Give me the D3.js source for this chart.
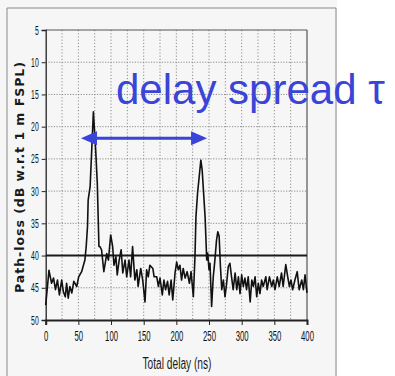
<!DOCTYPE html>
<html><head><meta charset="utf-8">
<script src="https://cdn.jsdelivr.net/npm/d3@7"></script>
<style>html,body{margin:0;padding:0;background:#fff;}svg{display:block;}</style>
</head><body>
<svg id="chart" width="395" height="376"></svg>
<script>
// ---- data ----
const delays = [0,5,9,12,15,18,21,24.5,27,30,32,34.5,37,40,43,47.5,50.5,55,60,62,64,65,68,73,76.5,79,81.5,83,85.5,89,93.5,96,99.5,102.5,104.5,107.5,109.5,112.5,115.5,118,121.5,124,127.5,130,133,136.5,139.5,141.5,145.5,148.5,152,154.5,157,159.5,164,166,170,172.5,175,178.5,181,183.5,186.5,189,192,194.5,198,200.5,203,205.5,208,210.5,213.5,216.5,220,222.5,226,228.5,230,232.5,237.5,239.5,244,246.5,248,250,251.5,254,256.5,259,261.5,263.5,265.5,267.5,269.5,272,274.5,277,279.5,282,284.5,287,290,292.5,295,297.5,300,302.5,305,307.5,310,313,315.5,318,320.5,323,325.5,328,330.5,333,337,339,342.5,346,348.5,351,354.5,357.5,361,363.5,367.5,370.5,373,375.5,378,381.5,385,388,392,394.5,397,400];
const pathLoss = [47.7,42.3,44.3,43.5,45.3,43.8,46.1,43.8,45.6,46.4,44.3,46.6,44.8,45.8,44,44.8,43.3,42.5,40.7,38.6,35.5,31.4,29.3,17.7,23.6,28.8,38.6,38.6,39.1,42.5,39.7,40.7,36.8,38.6,41.5,40.2,43,40.7,39.1,42.7,40.7,43.3,40.7,43.3,38.6,43.8,42.2,44.8,42,43.8,47.2,42.2,43.3,41.5,42,43.3,43.3,44.8,43.5,46.1,43.8,45.3,44,46.1,43.8,46.9,42.7,41,42.2,41.5,43.8,42,43.5,42.5,44.3,42.5,46.4,40.2,34,30.3,25.2,26.7,34,40.7,39.6,42.2,41.2,47.9,43.3,40.7,37.6,36.3,37,41.7,45.3,43.8,46.4,44.3,41.7,41.2,43.3,45.3,42.7,45.3,43.3,45.9,43,44.8,43.5,45.3,43.3,47.2,43.8,44.8,43.3,46.4,44.3,45.9,43.8,44.8,43.3,45.3,43.3,44.8,43.8,45.3,43.3,44.8,42.7,44.8,41.4,43.3,44.8,43.8,45.3,43.8,42.5,45.3,43.8,45.3,43,45.8];
const xTicks = [0,50,100,150,200,250,300,350,400];
const yTicks = [5,10,15,20,25,30,35,40,45,50];
const xGrid = [25,50,75,100,125,150,175,200,225,250,275,300,325,350,375];
const yGrid = [10,15,20,25,30,35,40,45];
const threshold = [40];
const spreadStart = 54, spreadEnd = 247, spreadLevel = 21.8;
const yTitle = "Path-loss (dB w.r.t 1 m FSPL)";
const xTitle = "Total delay (ns)";
const annotation = "delay spread \u03C4";

// ---- drawing ----
const svg = d3.select("#chart");
const x = d3.scaleLinear().domain([0,400]).range([45.7,307]);
const y = d3.scaleLinear().domain([5,50]).range([30,320]);

// paper
svg.append("rect").attr("x",0).attr("y",0).attr("width",337).attr("height",376).attr("fill","#f6f6f6");
svg.append("path").attr("d","M7,376 L7,8 L336,8 L336,376").attr("fill","none").attr("stroke","#8a8a8a").attr("stroke-width",1);

// grid
svg.append("g").selectAll("line").data(xGrid).join("line")
  .attr("x1",d=>x(d)).attr("x2",d=>x(d)).attr("y1",y(5)).attr("y2",y(50))
  .attr("stroke","#8c8c8c").attr("stroke-width",1).attr("stroke-dasharray","1.2,2");
svg.append("g").selectAll("line").data(yGrid).join("line")
  .attr("x1",x(0)).attr("x2",x(400)).attr("y1",d=>y(d)).attr("y2",d=>y(d))
  .attr("stroke","#8c8c8c").attr("stroke-width",1).attr("stroke-dasharray","1.2,1.5");

// borders
svg.append("line").attr("x1",x(0)).attr("x2",x(400)).attr("y1",y(5)).attr("y2",y(5)).attr("stroke","#555").attr("stroke-width",1.2);
svg.append("line").attr("x1",x(400)).attr("x2",x(400)).attr("y1",y(5)).attr("y2",y(50)).attr("stroke","#555").attr("stroke-width",1.2);

// axes
const yAxis = d3.axisLeft(y).tickValues(yTicks).tickSize(4).tickPadding(3);
const gy = svg.append("g").attr("transform",`translate(${x(0)},0)`).call(yAxis);
gy.select(".domain").attr("stroke","#222").attr("stroke-width",1.3);
gy.selectAll(".tick line").attr("stroke","#222");
gy.selectAll(".tick text").attr("font-family","'Liberation Sans Narrow','Liberation Sans',sans-serif")
  .attr("font-size",12.5).attr("fill","#111")
  .attr("textLength",d=>String(d).length*3.8).attr("lengthAdjust","spacingAndGlyphs");

const xAxis = d3.axisBottom(x).tickValues(xTicks).tickSize(5).tickPadding(6);
const gx = svg.append("g").attr("transform",`translate(0,${y(50)})`).call(xAxis);
gx.select(".domain").attr("stroke","#222").attr("stroke-width",2);
gx.selectAll(".tick line").attr("stroke","#222");
gx.selectAll(".tick text").attr("font-family","'Liberation Sans Narrow','Liberation Sans',sans-serif")
  .attr("font-size",14).attr("fill","#111")
  .attr("textLength",d=>String(d).length*4.3).attr("lengthAdjust","spacingAndGlyphs");

// threshold line
svg.append("g").selectAll("line").data(threshold).join("line")
  .attr("x1",x(0)).attr("x2",x(400)).attr("y1",d=>y(d)).attr("y2",d=>y(d))
  .attr("stroke","#1a1a1a").attr("stroke-width",2);

// trace
const pts = delays.map((d,i)=>[d,pathLoss[i]]);
svg.append("path").datum(pts)
  .attr("d",d3.line().x(d=>x(d[0])).y(d=>y(d[1])))
  .attr("fill","none").attr("stroke","#111").attr("stroke-width",1.6).attr("stroke-linejoin","round");

// titles
svg.append("text").attr("transform",`translate(24,${177.5}) rotate(-90)`)
  .attr("text-anchor","middle").attr("font-family","'DejaVu Sans',sans-serif").attr("font-weight","bold")
  .attr("font-size",12.5).attr("fill","#1a1a1a")
  .attr("textLength",231).attr("lengthAdjust","spacing").text(yTitle);
svg.append("text").attr("x",177).attr("y",369).attr("text-anchor","middle")
  .attr("font-family","'Liberation Sans Narrow','Liberation Sans',sans-serif").attr("font-size",16).attr("fill","#1a1a1a")
  .attr("textLength",69).attr("lengthAdjust","spacingAndGlyphs").text(xTitle);

// annotation
const blue = "#3a44d6";
const ay = y(spreadLevel), ax1 = x(spreadStart), ax2 = x(spreadEnd);
svg.append("line").attr("x1",ax1+12).attr("x2",ax2-12).attr("y1",ay).attr("y2",ay).attr("stroke",blue).attr("stroke-width",3);
svg.append("path").attr("d",`M${ax1},${ay} L${ax1+16},${ay-7} L${ax1+16},${ay+7} Z`).attr("fill",blue);
svg.append("path").attr("d",`M${ax2},${ay} L${ax2-16},${ay-7} L${ax2-16},${ay+7} Z`).attr("fill",blue);
svg.append("text").attr("x",116).attr("y",104).attr("font-family","'Liberation Sans',Arial,sans-serif")
  .attr("font-size",42).attr("fill",blue).text(annotation);
</script>
</body></html>
